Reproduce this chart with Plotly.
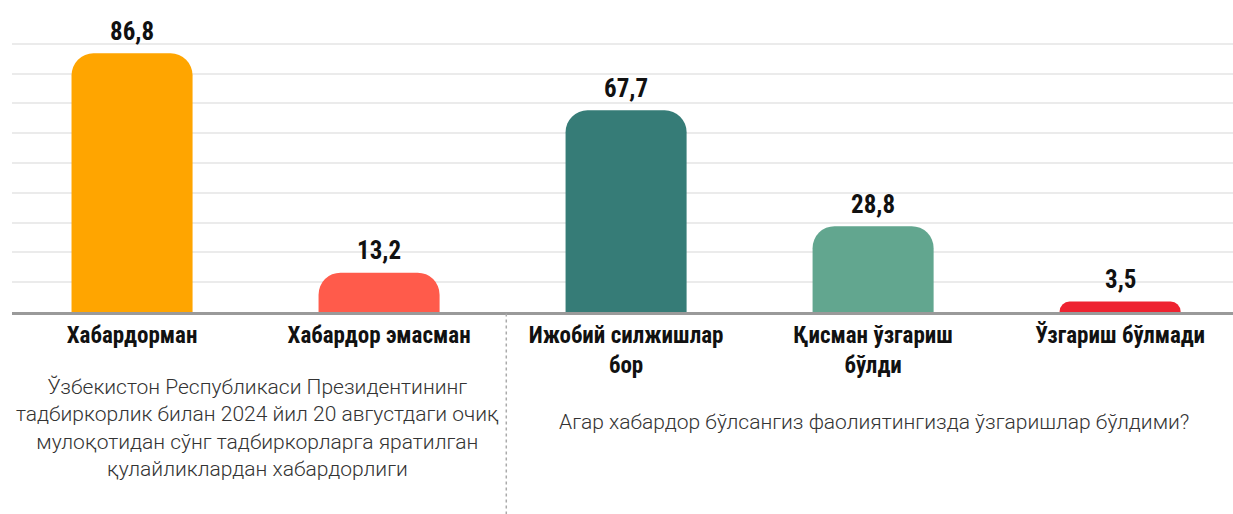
import plotly.graph_objects as go

categories = ["Хабардорман", "Хабардор эмасман", "Ижобий силжишлар<br>бор", "Қисман ўзгариш<br>бўлди", "Ўзгариш бўлмади"]
values = [86.8, 13.2, 67.7, 28.8, 3.5]
colors = ["#FFA500", "#FF5B4B", "#367C77", "#62A68F", "#EE2230"]
left_caption = "Ўзбекистон Республикаси Президентининг<br>тадбиркорлик билан 2024 йил 20 августдаги очиқ<br>мулоқотидан сўнг тадбиркорларга яратилган<br>қулайликлардан хабардорлиги"
right_caption = "Агар хабардор бўлсангиз фаолиятингизда ўзгаришлар бўлдими?"

W, H = 1233, 514
COND = "Roboto Condensed, Liberation Sans Narrow, DejaVu Sans Condensed, Roboto"
xs = list(range(len(categories)))
fig = go.Figure()
fig.add_trace(go.Bar(
    x=xs, y=values,
    marker=dict(color=colors, line=dict(width=0)),
    width=0.49, hoverinfo="skip",
))

for xi, v in zip(xs, values):
    fig.add_annotation(
        x=xi, y=v, xref="x", yref="y",
        text=f"{v:.1f}".replace(".", ","), showarrow=False,
        yanchor="middle", yshift=22,
        font=dict(family=COND, size=25, color="#111", weight="bold"),
    )

fig.update_layout(
    width=W, height=H, margin=dict(l=12, r=0, t=14, b=202),
    paper_bgcolor="white", plot_bgcolor="white",
    separators=",.",
    barcornerradius=22,
    showlegend=False,
    xaxis=dict(
        range=[-0.486, 4.457], tickmode="array",
        tickvals=xs, ticktext=categories,
        showline=True, linecolor="#9A9A9A", linewidth=3,
        showgrid=False, ticks="", zeroline=False,
        tickfont=dict(family=COND, size=23, color="#111", weight="bold"),
    ),
    yaxis=dict(
        range=[0, 100], dtick=10, showticklabels=False,
        showgrid=True, gridcolor="#EBEBEB", gridwidth=2, zeroline=False,
    ),
)

fig.add_annotation(
    xref="paper", yref="paper", x=(257 - 12) / (W - 12), y=(514 - 428 - 202) / 298,
    text=left_caption, showarrow=False, xanchor="center", yanchor="middle",
    align="center", font=dict(family="Roboto", size=21, color="#333", weight=300),
)
fig.add_annotation(
    xref="paper", yref="paper", x=(874 - 12) / (W - 12), y=(514 - 422 - 202) / 298,
    text=right_caption, showarrow=False, xanchor="center", yanchor="middle",
    align="center", font=dict(family="Roboto", size=21, color="#333", weight=300),
)
fig.add_shape(
    type="line", xref="x", yref="paper",
    x0=1.515, x1=1.515, y0=-1.5 / 298, y1=-202 / 298,
    line=dict(color="#AAAAAA", width=1.5, dash="dot"),
)

fig.write_html("out.html")
